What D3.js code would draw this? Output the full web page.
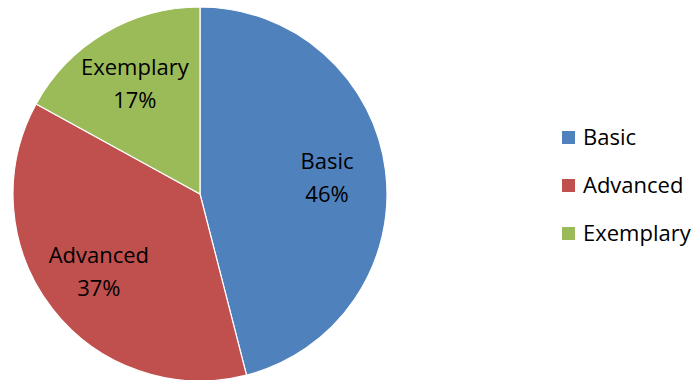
<!DOCTYPE html>
<html>
<head>
<meta charset="utf-8">
<script src="https://cdn.jsdelivr.net/npm/d3@7"></script>
<style>
  html, body { margin: 0; padding: 0; background: #fff; }
  svg { display: block; }
  text { font-family: "Open Sans", Lato, sans-serif; fill: #000; }
</style>
</head>
<body>
<svg id="chart" width="698" height="380"></svg>
<script>
// Share of students at each performance level
const categories = ["Basic", "Advanced", "Exemplary"];
const shares = [46, 37, 17];
const colors = ["#4F81BD", "#C0504D", "#9BBB59"];

const svg = d3.select("#chart");
const cx = 200, cy = 194, radius = 187, labelRadius = 128;
const fontSize = 22;

const data = categories.map((c, i) => ({ name: c, value: shares[i], color: colors[i] }));

const pie = d3.pie().value(d => d.value).sort(null);
const arc = d3.arc().innerRadius(0).outerRadius(radius);
const labelArc = d3.arc().innerRadius(labelRadius).outerRadius(labelRadius);

const g = svg.append("g").attr("transform", `translate(${cx},${cy})`);
const arcs = pie(data);

g.selectAll("path.slice")
  .data(arcs)
  .join("path")
  .attr("class", "slice")
  .attr("d", arc)
  .attr("fill", d => d.data.color)
  .attr("stroke", "#fff")
  .attr("stroke-width", 1.2)
  .attr("stroke-linejoin", "round");

// Two-line data labels: category name and percentage, centred on the slice
const total = d3.sum(shares);
const labels = g.selectAll("text.label")
  .data(arcs)
  .join("text")
  .attr("class", "label")
  .attr("text-anchor", "middle")
  .attr("font-size", fontSize)
  .attr("transform", d => {
    const [x, y] = labelArc.centroid(d);
    return `translate(${x},${y})`;
  });
labels.append("tspan").attr("x", 0).attr("y", -9).text(d => d.data.name);
labels.append("tspan").attr("x", 0).attr("y", 24)
  .text(d => Math.round(d.data.value / total * 100) + "%");

// Legend
const legend = svg.append("g").attr("transform", "translate(562,131)");
const items = legend.selectAll("g.item")
  .data(data)
  .join("g")
  .attr("class", "item")
  .attr("transform", (d, i) => `translate(0,${i * 48})`);
items.append("rect")
  .attr("width", 13).attr("height", 13)
  .attr("fill", d => d.color);
items.append("text")
  .attr("x", 21).attr("y", 14)
  .attr("font-size", fontSize)
  .text(d => d.name);
</script>
</body>
</html>
